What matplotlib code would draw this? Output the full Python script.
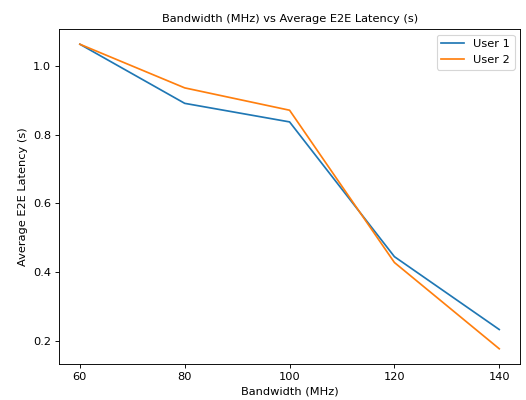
import matplotlib
matplotlib.use("Agg")
from matplotlib import pyplot as plt

bandwidth = [60, 80, 100, 120, 140]
user1_latency = [1.063, 0.891, 0.837, 0.445, 0.233]
user2_latency = [1.063, 0.936, 0.871, 0.428, 0.177]

dpi = 82.2
fig = plt.figure(figsize=(526 / dpi, 400 / dpi), dpi=dpi)
ax = fig.add_axes([0.112, 0.09, 0.877, 0.8375])
ax.plot(bandwidth, user1_latency, label="User 1")
ax.plot(bandwidth, user2_latency, label="User 2")
ax.set_title("Bandwidth (MHz) vs Average E2E Latency (s)", fontsize=10)
ax.set_xlabel("Bandwidth (MHz)")
ax.set_ylabel("Average E2E Latency (s)")
ax.set_xticks([60, 80, 100, 120, 140])
ax.legend()
fig.savefig("out.png", dpi=dpi)
